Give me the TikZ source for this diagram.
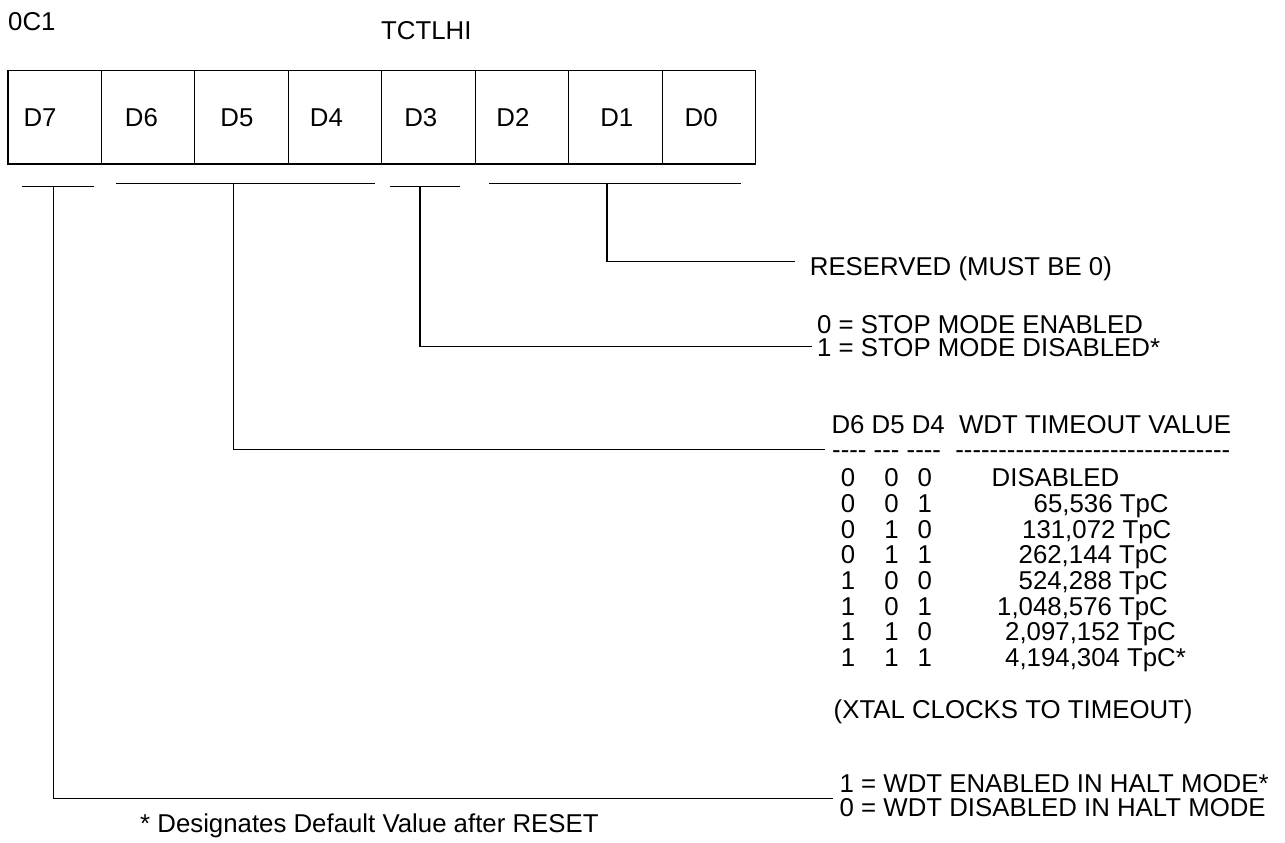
\documentclass[tikz,border=0pt]{standalone}
\usepackage{fontspec}
\setmainfont{Liberation Sans}[Ligatures=TeXOff]
\usetikzlibrary{positioning,calc}

\tikzset{
  lbl/.style={inner sep=0pt, anchor=base west, font=\fontsize{25.8}{25.7}\selectfont},
  cell/.style={draw, line width=1.2pt, minimum width=93.46pt, minimum height=93.3pt,
    inner sep=0pt, anchor=north west},
  wire/.style={line width=1.2pt}
}

\begin{document}
\begin{tikzpicture}[x=1pt,y=-1pt]
  \useasboundingbox (0,0) rectangle (1285,843);
  \node[lbl] (addr) at (8,30.7) {0C1};
  \node[lbl] (name) at (381,39.3) {TCTLHI};
  % register bits
  \foreach \b/\dx [count=\i from 0] in {7/16,6/24,5/26,4/22,3/23,2/21.6,1/32,0/23} {
    \node[cell] (c\b) at (7.3+\i*93.46,70) {};
    \node[lbl] (d\b) at ($(c\b.north west)+(\dx,56)$) {D\b};
  }
  % field brackets
  \coordinate (b7) at (53.3,186.7);
  \coordinate (b64) at (233.8,183.3);
  \coordinate (b3) at (420,186.7);
  \coordinate (b20) at (607,183.3);
  \draw[wire] (21.8,186.7) -- (94.4,186.7);
  \draw[wire] (116,183.3) -- (375,183.3);
  \draw[wire] (389.7,186.7) -- (459.9,186.7);
  \draw[wire] (489,183.3) -- (740.6,183.3);

  % descriptions
  \node[lbl] (rsv) at (809.7,275) {RESERVED (MUST BE 0)};
  \node[lbl] (stop0) at (817,333.3) {0 = STOP MODE ENABLED};
  \node[lbl] (stop1) at (817,356.7) {1 = STOP MODE DISABLED*};
  \node[lbl] (hdr) at (831.3,433.3) {D6 D5 D4\ \ WDT TIMEOUT VALUE};
  \node[lbl] (dash) at (832,458.7) {---- --- ----\ \ --------------------------------};
  \foreach \p/\q/\r/\val/\vx [count=\k from 0] in {0/0/0/DISABLED/991.5,
      0/0/1/{65,536 TpC}/1033.5, 0/1/0/{131,072 TpC}/1022,
      0/1/1/{262,144 TpC}/1018.5, 1/0/0/{524,288 TpC}/1018.5,
      1/0/1/{1,048,576 TpC}/997, 1/1/0/{2,097,152 TpC}/1005,
      1/1/1/{4,194,304 TpC*}/1005} {
    \node[lbl,anchor=base] (ra\k) at (848,486.7+\k*25.7) {\p};
    \node[lbl,anchor=base] (rb\k) at (891.5,486.7+\k*25.7) {\q};
    \node[lbl,anchor=base] (rc\k) at (924.8,486.7+\k*25.7) {\r};
    \node[lbl] (rv\k) at (\vx,486.7+\k*25.7) {\val};
  }
  \node[lbl] (xtal) at (833.5,718.3) {(XTAL CLOCKS TO TIMEOUT)};
  \node[lbl] (halt1) at (839.5,792.3) {1 = WDT ENABLED IN HALT MODE*};
  \node[lbl] (halt0) at (839.5,816) {0 = WDT DISABLED IN HALT MODE};
  \node[lbl] (note) at (140,832) {* Designates Default Value after RESET};

  % leaders
  \coordinate (e20) at (795,261.7);
  \coordinate (e3) at (811.7,346.7);
  \coordinate (e64) at (825,449.3);
  \coordinate (e7) at (833.3,798.3);
  \draw[wire] (b20) |- (e20);
  \draw[wire] (b3) |- (e3);
  \draw[wire] (b64) |- (e64);
  \draw[wire] (b7) |- (e7);
\end{tikzpicture}
\end{document}
